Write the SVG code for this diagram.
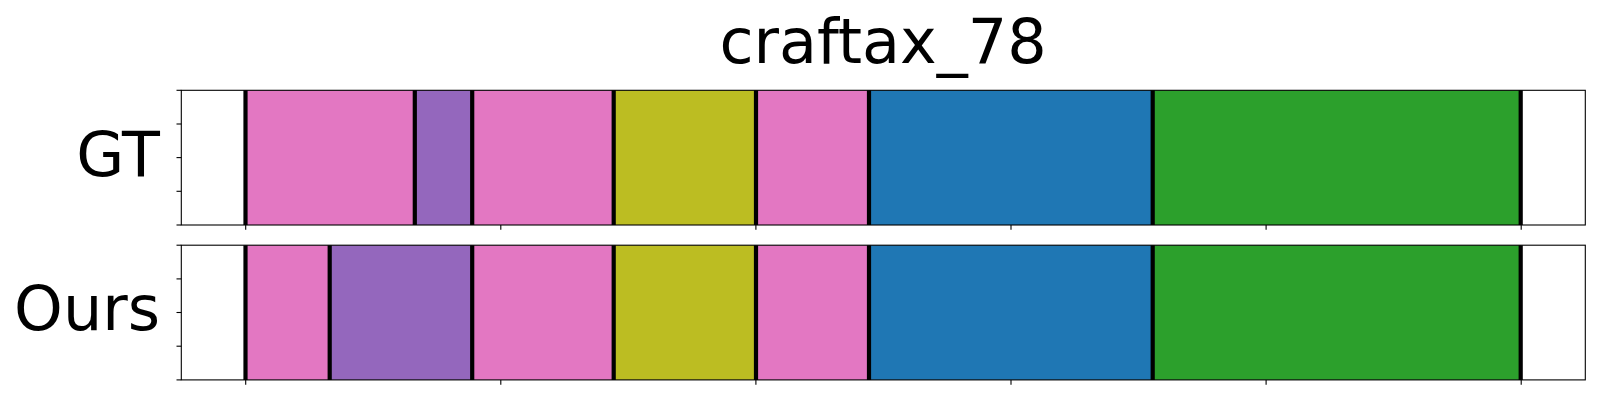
<svg xmlns="http://www.w3.org/2000/svg" width="1600" height="400" viewBox="0 0 1600 400">
  <style>
    .txt { font-family: "DejaVu Sans", "Liberation Sans", sans-serif; font-size: 62px; fill: #000; }
    .pink { fill: #e377c2; }
    .purple { fill: #9467bd; }
    .olive { fill: #bcbd22; }
    .blue { fill: #1f77b4; }
    .green { fill: #2ca02c; }
    .bound { stroke: #000; stroke-width: 4.2; }
    .spine { fill: none; stroke: #000; stroke-width: 1.1; }
    .tick { stroke: #000; stroke-width: 1.1; }
  </style>
  <rect x="0" y="0" width="1600" height="400" fill="#fff"/>
  <text id="title" class="txt" x="883" y="63" text-anchor="middle">craftax_78</text>

  <g id="panel-gt">
    <text class="txt" x="160" y="175.5" text-anchor="end">GT</text>
    <g id="gt-segments">
      <rect class="pink" x="245.5" y="90.3" width="169.2" height="134.7"/>
      <rect class="purple" x="414.7" y="90.3" width="57.3" height="134.7"/>
      <rect class="pink" x="472" y="90.3" width="141.7" height="134.7"/>
      <rect class="olive" x="613.7" y="90.3" width="142.3" height="134.7"/>
      <rect class="pink" x="756" y="90.3" width="113" height="134.7"/>
      <rect class="blue" x="869" y="90.3" width="283.7" height="134.7"/>
      <rect class="green" x="1152.7" y="90.3" width="368" height="134.7"/>
    </g>
    <g id="gt-boundaries">
      <line class="bound" x1="245.5" y1="90.3" x2="245.5" y2="225"/>
      <line class="bound" x1="414.8" y1="90.3" x2="414.8" y2="225"/>
      <line class="bound" x1="472.2" y1="90.3" x2="472.2" y2="225"/>
      <line class="bound" x1="613.7" y1="90.3" x2="613.7" y2="225"/>
      <line class="bound" x1="756" y1="90.3" x2="756" y2="225"/>
      <line class="bound" x1="869" y1="90.3" x2="869" y2="225"/>
      <line class="bound" x1="1152.7" y1="90.3" x2="1152.7" y2="225"/>
      <line class="bound" x1="1520.7" y1="90.3" x2="1520.7" y2="225"/>
    </g>
    <rect class="spine" x="181.3" y="90.3" width="1404" height="134.7"/>
    <g id="gt-ticks">
      <line class="tick" x1="176.5" y1="90.3" x2="181.3" y2="90.3"/>
      <line class="tick" x1="176.5" y1="124" x2="181.3" y2="124"/>
      <line class="tick" x1="176.5" y1="157.6" x2="181.3" y2="157.6"/>
      <line class="tick" x1="176.5" y1="191.3" x2="181.3" y2="191.3"/>
      <line class="tick" x1="176.5" y1="225" x2="181.3" y2="225"/>
      <line class="tick" x1="245.7" y1="225" x2="245.7" y2="229.8"/>
      <line class="tick" x1="500.8" y1="225" x2="500.8" y2="229.8"/>
      <line class="tick" x1="755.9" y1="225" x2="755.9" y2="229.8"/>
      <line class="tick" x1="1011" y1="225" x2="1011" y2="229.8"/>
      <line class="tick" x1="1266.1" y1="225" x2="1266.1" y2="229.8"/>
      <line class="tick" x1="1521.2" y1="225" x2="1521.2" y2="229.8"/>
    </g>
  </g>

  <g id="panel-ours">
    <text class="txt" x="160" y="330" text-anchor="end">Ours</text>
    <g id="ours-segments">
      <rect class="pink" x="245.5" y="245.2" width="84.2" height="134.7"/>
      <rect class="purple" x="329.7" y="245.2" width="142.3" height="134.7"/>
      <rect class="pink" x="472" y="245.2" width="141.7" height="134.7"/>
      <rect class="olive" x="613.7" y="245.2" width="142.3" height="134.7"/>
      <rect class="pink" x="756" y="245.2" width="113" height="134.7"/>
      <rect class="blue" x="869" y="245.2" width="283.7" height="134.7"/>
      <rect class="green" x="1152.7" y="245.2" width="368" height="134.7"/>
    </g>
    <g id="ours-boundaries">
      <line class="bound" x1="245.5" y1="245.2" x2="245.5" y2="379.9"/>
      <line class="bound" x1="329.7" y1="245.2" x2="329.7" y2="379.9"/>
      <line class="bound" x1="472.2" y1="245.2" x2="472.2" y2="379.9"/>
      <line class="bound" x1="613.7" y1="245.2" x2="613.7" y2="379.9"/>
      <line class="bound" x1="756" y1="245.2" x2="756" y2="379.9"/>
      <line class="bound" x1="869" y1="245.2" x2="869" y2="379.9"/>
      <line class="bound" x1="1152.7" y1="245.2" x2="1152.7" y2="379.9"/>
      <line class="bound" x1="1520.7" y1="245.2" x2="1520.7" y2="379.9"/>
    </g>
    <rect class="spine" x="181.3" y="245.2" width="1404" height="134.7"/>
    <g id="ours-ticks">
      <line class="tick" x1="176.5" y1="245.2" x2="181.3" y2="245.2"/>
      <line class="tick" x1="176.5" y1="278.9" x2="181.3" y2="278.9"/>
      <line class="tick" x1="176.5" y1="312.5" x2="181.3" y2="312.5"/>
      <line class="tick" x1="176.5" y1="346.2" x2="181.3" y2="346.2"/>
      <line class="tick" x1="176.5" y1="379.9" x2="181.3" y2="379.9"/>
      <line class="tick" x1="245.7" y1="379.9" x2="245.7" y2="384.7"/>
      <line class="tick" x1="500.8" y1="379.9" x2="500.8" y2="384.7"/>
      <line class="tick" x1="755.9" y1="379.9" x2="755.9" y2="384.7"/>
      <line class="tick" x1="1011" y1="379.9" x2="1011" y2="384.7"/>
      <line class="tick" x1="1266.1" y1="379.9" x2="1266.1" y2="384.7"/>
      <line class="tick" x1="1521.2" y1="379.9" x2="1521.2" y2="384.7"/>
    </g>
  </g>
</svg>
